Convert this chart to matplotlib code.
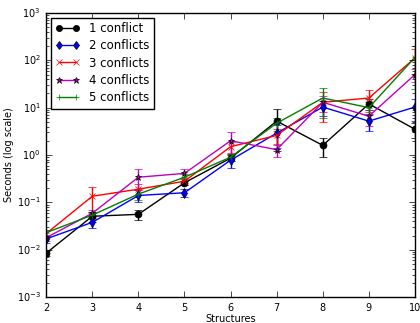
import numpy as np
import matplotlib
matplotlib.use('Agg')
from matplotlib import pyplot as plt

plt.style.use('classic')

structures = [2, 3, 4, 5, 6, 7, 8, 9, 10]
labels = ['1 conflict', '2 conflicts', '3 conflicts', '4 conflicts', '5 conflicts']

# seconds
c1 = [0.0085, 0.051, 0.056, 0.26, 0.86, 5.2, 1.6, 12, 3.5]
c1_err = [0.001, 0.012, 0.013, 0.03, 0.12, 4.0, 0.7, 3.0, 1.2]
c2 = [0.017, 0.038, 0.14, 0.16, 0.78, 2.9, 10.3, 5.2, 10.3]
c2_err = [0.003, 0.009, 0.04, 0.03, 0.25, 1.5, 3.5, 2.0, 5.0]
c3 = [0.022, 0.135, 0.19, 0.28, 1.5, 2.6, 13, 16, 112]
c3_err = [0.004, 0.075, 0.05, 0.05, 0.4, 1.0, 8.0, 8.0, 60]
c4 = [0.018, 0.059, 0.34, 0.41, 2.0, 1.3, 13, 6.6, 50]
c4_err = [0.003, 0.01, 0.16, 0.1, 1.1, 0.4, 5.0, 2.5, 15]
c5 = [0.023, 0.054, 0.15, 0.34, 0.9, 4.7, 16, 10, 115]
c5_err = [0.003, 0.01, 0.04, 0.05, 0.15, 1.5, 10, 3.0, 90]

series = [c1, c2, c3, c4, c5]
errs = [c1_err, c2_err, c3_err, c4_err, c5_err]
colors = ['k', 'b', 'r', 'm', 'g']
markers = ['o', 'd', 'x', '*', '+']

fig = plt.figure(figsize=(4.2, 3.23), dpi=100)
ax = fig.add_axes([0.11, 0.08, 0.878, 0.88])

handles = []
for ys, es, c, m, lab in zip(series, errs, colors, markers, labels):
    kw = {}
    if m in ('o', 'd', '*'):
        kw['mec'] = 'k'
    eb = ax.errorbar(structures, ys, yerr=es, color=c, ecolor=c, marker=m,
                     markersize=5, capsize=3, lw=1, label=lab, **kw)
    handles.append(eb[0])

ax.set_yscale('log')
ax.set_xlim(2, 10)
ax.set_ylim(1e-3, 1e3)
ax.set_xlabel('Structures', fontsize=7, labelpad=1)
ax.set_ylabel('Seconds (log scale)', fontsize=7, labelpad=2)
ax.tick_params(labelsize=7)
ax.legend(handles, labels, loc='upper left', fontsize=8.5, numpoints=2,
          handlelength=2.0, borderaxespad=0.4, labelspacing=0.35,
          markerscale=0.9)

fig.savefig('out.png', dpi=100)
